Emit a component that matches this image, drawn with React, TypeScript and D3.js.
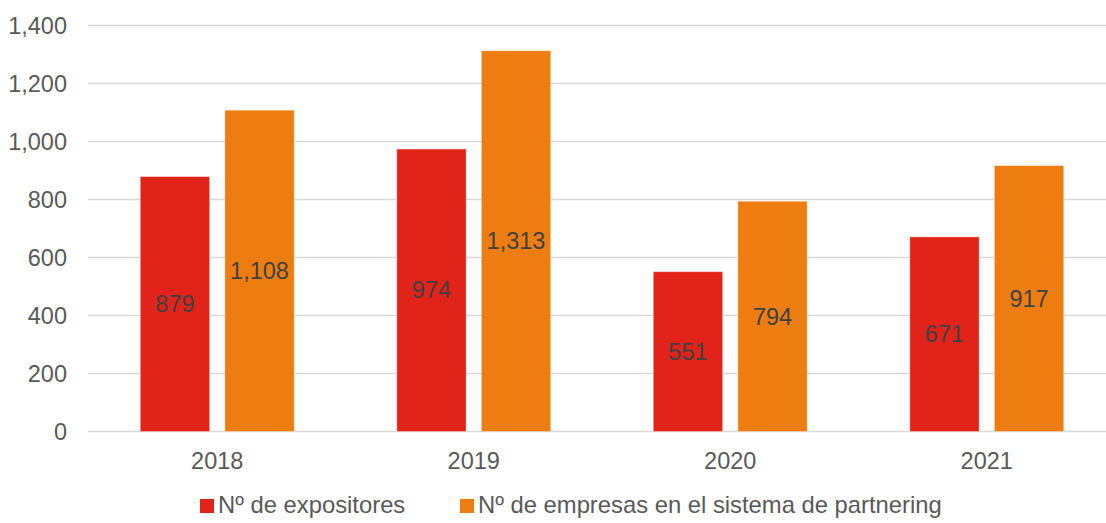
import React from "react";
import * as d3 from "d3";

const years = ["2018", "2019", "2020", "2021"];
const seriesNames = ["Nº de expositores", "Nº de empresas en el sistema de partnering"];
const expositores = [879, 974, 551, 671];
const empresas = [1108, 1313, 794, 917];
const yTicks = [0, 200, 400, 600, 800, 1000, 1200, 1400];
const colors = ["#E2231A", "#EE7D11"];

const W = 1106;
const H = 523;

export default function App() {
  const y = d3.scaleLinear().domain([0, 1400]).range([431.5, 25.5]);
  const x0 = d3.scaleBand().domain(years).range([89, 1115]).paddingInner(0.4).paddingOuter(0.2);
  const x1 = d3.scaleBand().domain(seriesNames).range([0, x0.bandwidth()]).paddingInner(0.18);
  const fmt = d3.format(",");
  const seriesValues = [expositores, empresas];
  const font = "'Liberation Sans', Arial, sans-serif";

  return (
    <svg width={W} height={H} style={{ position: "absolute", left: 0, top: 0 }} fontFamily={font}>
      <rect width={W} height={H} fill="#fff" />
      {yTicks.map((t) => (
        <g key={t}>
          <line x1={88} x2={W} y1={y(t)} y2={y(t)} stroke="#d9d9d9" strokeWidth={1.5} />
          <text x={67} y={y(t)} dy="0.35em" textAnchor="end" fontSize={23.5} fill="#595959">
            {fmt(t)}
          </text>
        </g>
      ))}
      {years.map((yr, i) => (
        <g key={yr} transform={`translate(${x0(yr)},0)`}>
          {seriesNames.map((s, j) => {
            const v = seriesValues[j][i];
            const bx = x1(s)!;
            const top = y(v);
            return (
              <g key={s}>
                <rect
                  x={bx}
                  y={top}
                  width={x1.bandwidth()}
                  height={y(0) - top}
                  fill={colors[j]}
                  stroke="rgba(255,255,255,0.35)"
                  strokeWidth={1}
                />
                <text
                  x={bx + x1.bandwidth() / 2}
                  y={(top + y(0)) / 2}
                  dy="0.35em"
                  textAnchor="middle"
                  fontSize={23.5}
                  fill="#404040"
                >
                  {fmt(v)}
                </text>
              </g>
            );
          })}
          <text x={x0.bandwidth() / 2} y={469} textAnchor="middle" fontSize={23.5} fill="#595959">
            {yr}
          </text>
        </g>
      ))}
      {seriesNames.map((s, j) => {
        const lx = j === 0 ? 200 : 460;
        return (
          <g key={s}>
            <rect x={lx} y={499} width={14} height={14} fill={colors[j]} />
            <text x={lx + 18} y={513} fontSize={23.8} fill="#595959">
              {s}
            </text>
          </g>
        );
      })}
    </svg>
  );
}
